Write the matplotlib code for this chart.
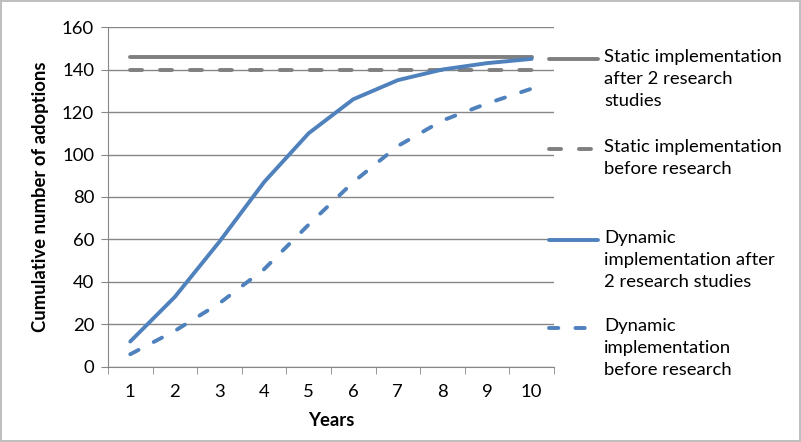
import matplotlib
matplotlib.use('Agg')
import matplotlib.pyplot as plt
from matplotlib.lines import Line2D

plt.rcParams['font.family'] = ['Lato', 'DejaVu Sans']

years = [1, 2, 3, 4, 5, 6, 7, 8, 9, 10]
static_after = [146] * 10
static_before = [140] * 10
dynamic_after = [12, 33, 59, 87, 110, 126, 135, 140, 143, 145]
dynamic_before = [6, 17, 30, 46, 67, 87, 104, 116, 124, 131]

labels = ['Static implementation\nafter 2 research\nstudies',
          'Static implementation\nbefore research',
          'Dynamic\nimplementation after\n2 research studies',
          'Dynamic\nimplementation\nbefore research']

gray = '#7f7f7f'
blue = '#4f81bd'
lw = 2.8
fs = 13.3

fig = plt.figure(figsize=(8.01, 4.42), dpi=100)
fig.patch.set_edgecolor('#bfbfbf')
fig.patch.set_linewidth(1.5)
ax = fig.add_axes([0.1348, 0.1697, 0.5568, 0.7692])

styles = [
    dict(color=gray, ls='-'),
    dict(color=gray, ls=(0, (3.1, 4.6))),
    dict(color=blue, ls='-'),
    dict(color=blue, ls=(0, (2.4, 4.4))),
]
series = [static_after, static_before, dynamic_after, dynamic_before]
for vals, st in zip(series, styles):
    ax.plot(years, vals, color=st['color'], linestyle=st['ls'], lw=lw,
            solid_capstyle='round', dash_capstyle='round', zorder=3)

ax.set_xlim(0.5, 10.5)
ax.set_ylim(0, 160)
ax.set_yticks(range(0, 161, 20))
ax.set_xticks(years)
ax.set_xticks([x + 0.5 for x in range(0, 11)], minor=True)
ax.grid(axis='y', color='#868686', lw=1, zorder=0)
for s in ['top', 'right']:
    ax.spines[s].set_visible(False)
ax.spines['left'].set_color('#868686')
ax.spines['bottom'].set_color('#868686')
ax.tick_params(axis='x', which='major', length=0, pad=12, labelsize=fs)
ax.tick_params(axis='x', which='minor', length=5, color='#868686', direction='out')
ax.tick_params(axis='y', length=5, color='#868686', labelsize=fs, pad=5)
ax.set_xlabel('Years', fontsize=fs, fontweight='bold', labelpad=9)
ax.set_ylabel('Cumulative number of adoptions', fontsize=fs,
              fontweight='bold', labelpad=9)

# legend on the right, line aligned with first text line
leg_y = [59, 149, 240, 328]
for y, st, lab in zip(leg_y, styles, labels):
    fy = 1 - y / 442
    fig.add_artist(Line2D([549 / 801, 598 / 801], [fy, fy], color=st['color'],
                          linestyle=st['ls'], lw=lw, solid_capstyle='round',
                          dash_capstyle='round'))
    fig.text(604 / 801, fy + 10 / 442, lab, fontsize=fs, va='top', ha='left',
             linespacing=1.45)

fig.savefig('out.png', dpi=100, edgecolor=fig.get_edgecolor())
